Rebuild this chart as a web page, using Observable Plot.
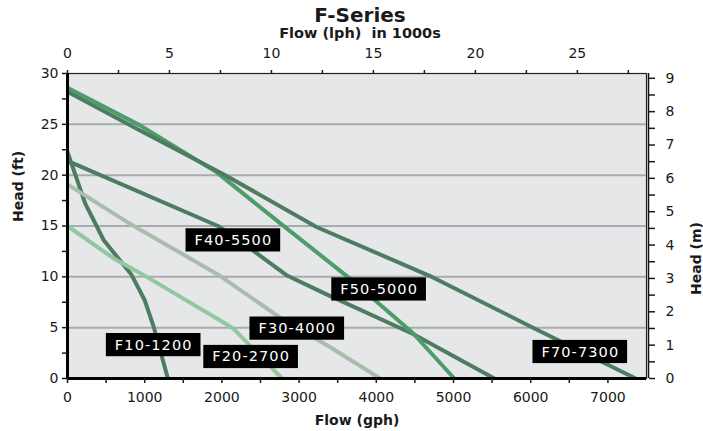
<!DOCTYPE html>
<html><head><meta charset="utf-8">
<script src="https://cdn.jsdelivr.net/npm/d3@7"></script>
<script src="https://cdn.jsdelivr.net/npm/@observablehq/plot@0.6"></script>
<style>
body{margin:0;background:#fff;font-family:"DejaVu Sans",sans-serif;color:#1a1a1a;}
#wrap{position:relative;width:703px;height:431px;overflow:hidden;}
#title{position:absolute;left:0;width:720px;top:5px;text-align:center;font-weight:bold;font-size:20px;line-height:20px;}
#sub{position:absolute;left:0;width:720px;top:26px;text-align:center;font-weight:bold;font-size:14.5px;line-height:15px;}
#chart{position:absolute;left:0;top:42px;}
</style></head><body>
<div id="wrap">
<div id="title">F-Series</div>
<div id="sub">Flow (lph)&nbsp; in 1000s</div>
<div id="chart"></div>
</div>
<script>
// ---- data (flow in gph, head in ft) ----
const models = ["F10-1200", "F20-2700", "F30-4000", "F40-5500", "F50-5000", "F70-7300"];
const seriesColors = ["#4d7c61", "#91c8a1", "#a8bdab", "#4d7c61", "#4d9c6b", "#4d7c61"];

const f10Flow = [0, 230, 470, 830, 1000, 1120, 1300];
const f10Head = [22.3, 17.2, 13.6, 10.2, 7.7, 5.0, 0];
const f20Flow = [0, 600, 1070, 2000, 2150, 2780];
const f20Head = [15.0, 11.8, 9.8, 5.6, 4.9, 0];
const f30Flow = [0, 770, 1975, 2750, 3400, 4050];
const f30Head = [19.1, 15.4, 10.1, 6.0, 3.1, 0];
const f40Flow = [0, 1950, 2400, 2850, 3350, 4470, 5530];
const f40Head = [21.4, 15.0, 12.6, 10.1, 8.3, 4.4, 0];
const f50Flow = [0, 940, 1930, 2700, 3630, 4470, 5010];
const f50Head = [28.6, 24.9, 20.3, 15.6, 10.0, 4.5, 0];
const f70Flow = [0, 940, 2020, 3225, 4690, 6030, 7360];
const f70Head = [28.2, 24.4, 20.1, 14.9, 10.1, 5.0, 0];

const labelNames = ["F40-5500", "F50-5000", "F30-4000", "F10-1200", "F20-2700", "F70-7300"];
const labelFlow = [2149, 4037, 2977, 1117, 2379, 6643];
const labelHead = [13.6, 8.77, 4.92, 3.3, 2.13, 2.62];

const gphTicks = d3.range(0, 7001, 500);      // bottom axis
const ftTicks = d3.range(0, 30.01, 2.5);      // left axis
const gridFt = [5, 10, 15, 20, 25];
const lphTicks = d3.range(0, 27.51, 2.5);     // top axis, 1000s of lph
const mTicks = d3.range(0, 9.01, 0.5);        // right axis, metres

// ---- build tables ----
const flows = [f10Flow, f20Flow, f30Flow, f40Flow, f50Flow, f70Flow];
const heads = [f10Head, f20Head, f30Head, f40Head, f50Head, f70Head];
const rows = models.flatMap((m, i) => flows[i].map((f, j) => ({model: m, flow: f, head: heads[i][j]})));
const labels = labelNames.map((n, i) => ({name: n, flow: labelFlow[i], head: labelHead[i]}));

const L_PER_GAL = 3.78541;
const lphToGph = k => k * 1000 / L_PER_GAL;
const M_PER_FT = 0.3048;

const chart = Plot.plot({
  width: 703, height: 389,
  marginTop: 31, marginBottom: 53, marginLeft: 67, marginRight: 57,
  x: {domain: [0, 7500]},
  y: {domain: [0, 30]},
  color: {domain: models, range: seriesColors},
  style: {fontFamily: "DejaVu Sans", fontSize: "14px", color: "#1a1a1a", background: "transparent", overflow: "visible"},
  marks: [
    Plot.frame({fill: "#e6e7e8", stroke: "#222", strokeWidth: 1.2}),
    Plot.ruleY(gridFt, {stroke: "#a9abae", strokeWidth: 2}),
    Plot.line(rows, {x: "flow", y: "head", z: "model", stroke: "model", strokeWidth: 4, strokeLinejoin: "round", strokeLinecap: "butt"}),
    Plot.ruleX([7500], {stroke: "#111", strokeWidth: 1.5, dx: 2}),
    Plot.ruleX([0], {stroke: "#000", strokeWidth: 3}),
    Plot.ruleY([0], {stroke: "#000", strokeWidth: 3}),
    Plot.axisX({anchor: "bottom", ticks: gphTicks, tickFormat: d => d % 1000 === 0 ? String(d) : "", tickSize: 5, tickPadding: 9, strokeWidth: 1.5, label: null, fontSize: 14}),
    Plot.axisY({anchor: "left", ticks: ftTicks, tickFormat: d => d % 5 === 0 ? String(d) : "", tickSize: 5, tickPadding: 4, strokeWidth: 1.5, label: null, fontSize: 14}),
    Plot.axisX({anchor: "top", ticks: lphTicks.map(lphToGph), tickFormat: d => { const k = Math.round(d * L_PER_GAL / 100) / 10; return k % 5 === 0 ? String(k) : ""; }, tickSize: 4, tickPadding: 12, strokeWidth: 1.5, label: null, fontSize: 14}),
    Plot.axisY({anchor: "right", ticks: mTicks.map(m => m / M_PER_FT), tickFormat: d => { const m = Math.round(d * M_PER_FT * 10) / 10; return m % 1 === 0 ? String(m) : ""; }, tickSize: 6, tickPadding: 11, dx: 2, strokeWidth: 1.5, label: null, fontSize: 14}),
    Plot.text(["Flow (gph)"], {frameAnchor: "bottom", dy: 46, fontWeight: "bold", fontSize: 14}),
    Plot.text(["Head (ft)"], {frameAnchor: "left", dx: -49, dy: -4, rotate: -90, fontWeight: "bold", fontSize: 14}),
    Plot.text(["Head (m)"], {frameAnchor: "right", dx: 50, dy: -4, rotate: -90, fontWeight: "bold", fontSize: 14}),
    Plot.text(labels, {x: "flow", y: "head", text: "name", fill: "white", fontSize: 14.5, ariaDescription: "model-label"})
  ]
});
document.getElementById("chart").appendChild(chart);

// black boxes behind the series labels
const lg = chart.querySelector('g[aria-description="model-label"]');
if (lg) {
  lg.querySelectorAll("text").forEach(t => {
    t.style.letterSpacing = "1.1px";
    const b = t.getBBox();
    const r = document.createElementNS("http://www.w3.org/2000/svg", "rect");
    const padX = 9, padY = 3.6;
    r.setAttribute("x", b.x - padX);
    r.setAttribute("y", b.y - padY);
    r.setAttribute("width", b.width + 2 * padX - 1.1);
    r.setAttribute("height", b.height + 2 * padY);
    r.setAttribute("fill", "#000");
    if (t.getAttribute("transform")) r.setAttribute("transform", t.getAttribute("transform"));
    t.parentNode.insertBefore(r, t);
  });
}
</script>
</body></html>
